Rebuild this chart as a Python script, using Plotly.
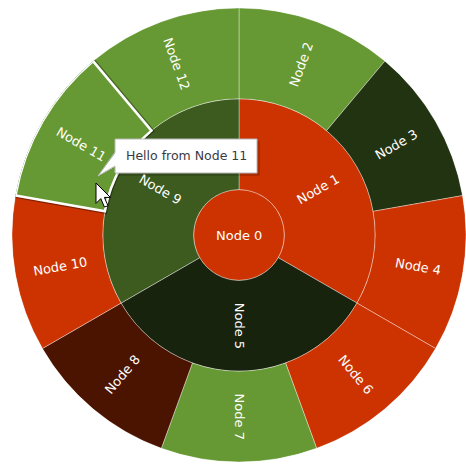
import math
import plotly.graph_objects as go

# ---- hierarchy -------------------------------------------------------------
labels = ["Node 0",
          "Node 1", "Node 2", "Node 3", "Node 4",
          "Node 5", "Node 6", "Node 7", "Node 8",
          "Node 9", "Node 10", "Node 11", "Node 12"]
parents = ["",
           "Node 0", "Node 1", "Node 1", "Node 1",
           "Node 0", "Node 5", "Node 5", "Node 5",
           "Node 0", "Node 9", "Node 9", "Node 9"]
leaf_values = {"Node 2": 1, "Node 3": 1, "Node 4": 1,
               "Node 6": 1, "Node 7": 1, "Node 8": 1,
               "Node 10": 1, "Node 11": 1, "Node 12": 1}
node_colors = ["#CC3300",
               "#CC3300", "#669933", "#223311", "#CC3300",
               "#17230D", "#CC3300", "#669933", "#4A1400",
               "#3D5A1F", "#CC3300", "#669933", "#669933"]
hovered = "Node 11"
tooltip_text = "Hello from Node 11"

# ring layout in radial units: centre disc, middle ring, outer ring
ring_base = [0, 1, 3]
ring_thick = [1, 2, 2]
R_MAX = 5

# ---- partition -------------------------------------------------------------
children = {l: [] for l in labels}
for l, p in zip(labels, parents):
    if p:
        children[p].append(l)


def total(node):
    if not children[node]:
        return leaf_values.get(node, 1)
    return sum(total(c) for c in children[node])


geom = {}


def place(node, start, span, depth):
    geom[node] = (start, span, depth)
    t = total(node)
    a = start
    for c in children[node]:
        s = span * total(c) / t
        place(c, a, s, depth + 1)
        a += s


place("Node 0", 0.0, 360.0, 0)

thetas, widths, bases, rs = [], [], [], []
for l in labels:
    start, span, depth = geom[l]
    thetas.append(start + span / 2)
    widths.append(span)
    bases.append(ring_base[depth])
    rs.append(ring_thick[depth])

# ---- figure geometry (pixels) ---------------------------------------------
W, H = 466, 465
CX, CY, RPX = 239, 235, 227


def px(x):
    return x / W


def py(y):
    return 1 - y / H


fig = go.Figure()

fig.add_trace(go.Barpolar(
    theta=thetas, width=widths, base=bases, r=rs,
    marker=dict(color=node_colors,
                line=dict(color="rgba(255,255,255,0.38)", width=1)),
    hovertext=labels, hoverinfo="text", showlegend=False,
))

# highlighted sector drawn on top with a white outline
hi = labels.index(hovered)
fig.add_trace(go.Barpolar(
    theta=[thetas[hi]], width=[widths[hi]], base=[bases[hi]], r=[rs[hi]],
    marker=dict(color=node_colors[hi],
                line=dict(color="rgba(0,0,0,0.35)", width=5)),
    hoverinfo="skip", showlegend=False,
))
fig.add_trace(go.Barpolar(
    theta=[thetas[hi]], width=[widths[hi]], base=[bases[hi]], r=[rs[hi]],
    marker=dict(color=node_colors[hi],
                line=dict(color="white", width=2.5)),
    hovertext=[hovered], hoverinfo="text", showlegend=False,
))

# ---- radial labels ---------------------------------------------------------
annotations = []
for l, th, b, r in zip(labels, thetas, bases, rs):
    depth = geom[l][2]
    if depth == 0:
        x, y, ang = CX, CY, 0
    else:
        rm = (b + r / 2) / R_MAX * RPX
        x = CX + rm * math.sin(math.radians(th))
        y = CY - rm * math.cos(math.radians(th))
        ang = th - 90
        if ang > 90:
            ang -= 180
    annotations.append(dict(
        x=px(x), y=py(y), xref="paper", yref="paper",
        text=l, showarrow=False, textangle=ang,
        font=dict(family="DejaVu Sans", size=13, color="white"),
        xanchor="center", yanchor="middle",
    ))

# ---- tooltip bubble --------------------------------------------------------
bx0, by0, bx1, by1 = 115, 139, 257, 173
shapes = [
    dict(type="rect", xref="paper", yref="paper",
         x0=px(bx0 + 2), x1=px(bx1 + 3), y0=py(by0 + 2), y1=py(by1 + 3),
         fillcolor="rgba(0,0,0,0.15)", line=dict(width=0)),
    dict(type="rect", xref="paper", yref="paper",
         x0=px(bx0), x1=px(bx1), y0=py(by0), y1=py(by1),
         fillcolor="white", line=dict(color="#b8b8b8", width=1)),
]
tail = [(bx0 + 1, 152), (98, 176), (bx0 + 1, 166)]
tail_path = "M {} {} L {} {} L {} {} Z".format(
    px(tail[0][0]), py(tail[0][1]), px(tail[1][0]), py(tail[1][1]),
    px(tail[2][0]), py(tail[2][1]))
shapes.append(dict(type="path", xref="paper", yref="paper", path=tail_path,
                   fillcolor="white", line=dict(width=0)))
edge_path = "M {} {} L {} {} L {} {}".format(
    px(bx0), py(tail[0][1]), px(tail[1][0]), py(tail[1][1]),
    px(bx0), py(tail[2][1]))
shapes.append(dict(type="path", xref="paper", yref="paper", path=edge_path,
                   line=dict(color="#b8b8b8", width=1)))

annotations.append(dict(
    x=px((bx0 + bx1) / 2), y=py((by0 + by1) / 2), xref="paper", yref="paper",
    text=tooltip_text, showarrow=False,
    font=dict(family="DejaVu Sans", size=12.5, color="#3a3a44"),
    xanchor="center", yanchor="middle",
))

# ---- mouse pointer ---------------------------------------------------------
cursor = [(0, 0), (0, 17), (4, 13), (7, 20), (10, 19), (7, 12), (12, 12)]
tipx, tipy, sc = 96, 183, 1.2
cpath = "M " + " L ".join(
    "{} {}".format(px(tipx + cx * sc), py(tipy + cy * sc)) for cx, cy in cursor
) + " Z"
shapes.append(dict(type="path", xref="paper", yref="paper", path=cpath,
                   fillcolor="white", line=dict(color="black", width=1)))

fig.update_layout(
    width=W, height=H,
    margin=dict(l=0, r=0, t=0, b=0),
    paper_bgcolor="white",
    polar=dict(
        domain=dict(x=[(CX - RPX) / W, min(1.0, (CX + RPX) / W)],
                    y=[1 - (CY + RPX) / H, 1 - (CY - RPX) / H]),
        bgcolor="rgba(0,0,0,0)",
        bargap=0,
        radialaxis=dict(range=[0, R_MAX], visible=False),
        angularaxis=dict(rotation=90, direction="clockwise", visible=False),
    ),
    annotations=annotations,
    shapes=shapes,
    showlegend=False,
)

fig.write_html("out.html")
